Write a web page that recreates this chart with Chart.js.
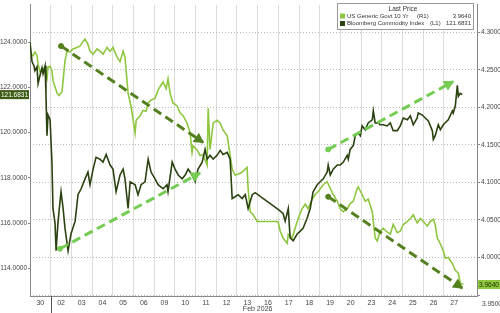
<!DOCTYPE html>
<html>
<head>
<meta charset="utf-8">
<script src="https://cdn.jsdelivr.net/npm/chart.js@4.4.1/dist/chart.umd.min.js"></script>
<style>
body{margin:0;background:#fff;}
#wrap{width:500px;height:313px;}
</style>
</head>
<body>
<div id="wrap"><canvas id="chart" width="500" height="313"></canvas></div>
<script>

/* DATA */

const dayLabels=['30','02','03','04','05','06','09','10','11','12','13','16','17','18','19','20','23','24','25','26','27'];

const leftTicks=[114,116,118,120,122,124];
const rightTicks=[3.95,4.00,4.05,4.10,4.15,4.20,4.25,4.30];

// Bloomberg Commodity Index (left axis), x = trading day index
const bcomX=[0,0.10,0.19,0.24,0.34,0.39,0.48,0.58,0.63,0.73,
0.77,0.82,0.87,0.97,1.06,1.11,1.21,1.26,1.35,1.45,
1.50,1.60,1.69,1.84,1.98,2.18,2.32,2.47,2.66,2.80,
2.90,3.05,3.19,3.38,3.53,3.68,3.87,4.01,4.16,4.35,
4.50,4.59,4.74,4.84,5.08,5.22,5.37,5.56,5.71,5.85,
6.04,6.19,6.43,6.62,6.67,6.87,7.01,7.16,7.35,7.50,
7.64,7.83,7.98,8.12,8.32,8.46,8.56,8.70,8.85,9.04,
9.19,9.33,9.53,9.67,9.77,9.91,10.06,10.25,10.40,10.54,
10.74,10.88,11.99,12.23,12.33,12.48,12.57,12.72,12.91,13.06,
13.20,13.39,13.54,13.68,13.88,14.02,14.17,14.36,14.41,14.51,
14.65,14.85,14.99,15.14,15.33,15.38,15.47,15.62,15.72,15.86,
15.96,16.05,16.20,16.34,16.54,16.59,16.68,16.83,16.92,17.07,
17.26,17.41,17.55,17.75,17.89,18.04,18.23,18.38,18.52,18.71,
18.76,18.96,19.10,19.25,19.44,19.49,19.58,19.73,19.83,19.97,
20.21,20.41,20.45,20.55,20.65,20.70,20.79,20.89];

const bcomY=[124.00,123.13,122.96,122.74,122.91,122.17,122.52,122.87,122.61,122.96,
121.74,119.87,120.78,120.57,118.70,116.65,116.00,114.78,116.00,116.96,
117.39,116.65,115.78,114.78,115.52,116.09,117.26,117.52,117.96,118.26,
117.70,118.39,118.91,118.83,118.70,119.04,118.57,118.39,117.39,118.13,
118.39,117.96,116.65,117.83,117.70,117.26,117.70,117.83,118.83,118.26,
117.96,117.70,117.52,117.70,117.39,118.70,118.39,118.13,117.96,118.13,
118.39,118.13,117.83,118.39,118.70,119.26,118.83,119.00,118.83,119.00,
119.22,119.04,119.13,118.83,117.09,117.17,117.26,117.09,117.26,116.65,
117.26,117.35,116.61,116.43,116.09,116.65,115.35,115.22,115.52,115.65,
115.78,116.22,116.65,117.39,117.70,117.83,117.96,118.26,118.57,118.13,
118.39,118.57,118.57,118.70,119.00,118.83,119.26,119.43,119.87,120.00,
119.87,120.30,120.13,120.43,120.57,120.96,120.43,120.43,120.35,120.35,
120.30,120.43,120.09,120.09,120.30,120.65,120.57,120.74,120.35,120.65,
120.87,120.78,120.65,120.52,120.09,119.70,119.87,120.35,120.13,120.35,
120.57,120.96,120.87,121.17,122.09,121.61,121.74,121.6831];

// US Generic Govt 10 Yr (right axis)
const ustX=[0,0.15,0.24,0.34,0.39,0.48,0.63,0.82,0.87,0.97,
1.06,1.11,1.31,1.40,1.55,1.60,1.69,1.79,1.93,2.08,
2.27,2.42,2.56,2.66,2.80,2.90,3.05,3.24,3.38,3.53,
3.72,3.87,4.01,4.21,4.35,4.50,4.59,4.74,4.88,5.08,
5.13,5.32,5.46,5.61,5.71,5.85,6.04,6.19,6.29,6.43,
6.58,6.67,6.77,6.91,7.11,7.25,7.40,7.59,7.74,7.83,
7.88,8.08,8.22,8.37,8.56,8.61,8.70,8.85,9.04,9.19,
9.33,9.53,9.67,9.77,9.91,10.06,10.25,10.40,10.49,10.54,
10.64,10.78,10.98,11.99,12.09,12.23,12.43,12.48,12.67,12.81,
12.96,13.15,13.30,13.44,13.64,13.78,13.93,14.17,14.36,14.51,
14.65,14.85,14.99,15.14,15.33,15.47,15.62,15.81,15.86,16.05,
16.20,16.34,16.54,16.68,16.78,16.92,17.07,17.26,17.41,17.55,
17.75,17.89,18.04,18.23,18.38,18.52,18.71,18.86,19.00,19.20,
19.34,19.49,19.58,19.68,19.83,19.97,20.07,20.21,20.41,20.55,
20.70,20.79,20.94];

const ustY=[4.271,4.269,4.274,4.269,4.258,4.248,4.252,4.238,4.254,4.255,
4.249,4.236,4.219,4.216,4.221,4.236,4.262,4.275,4.274,4.278,
4.280,4.282,4.288,4.291,4.284,4.275,4.271,4.278,4.275,4.271,
4.280,4.275,4.280,4.267,4.261,4.275,4.267,4.219,4.202,4.166,
4.183,4.189,4.196,4.195,4.206,4.210,4.212,4.223,4.228,4.234,
4.225,4.238,4.219,4.206,4.202,4.193,4.189,4.179,4.166,4.140,
4.149,4.143,4.136,4.137,4.123,4.199,4.144,4.179,4.183,4.179,
4.170,4.162,4.136,4.118,4.110,4.111,4.114,4.118,4.120,4.092,
4.061,4.057,4.048,4.048,4.035,4.026,4.019,4.031,4.026,4.039,
4.052,4.065,4.071,4.065,4.078,4.084,4.088,4.097,4.101,4.092,
4.084,4.075,4.065,4.061,4.065,4.072,4.075,4.092,4.094,4.084,
4.075,4.078,4.061,4.026,4.022,4.035,4.039,4.034,4.031,4.044,
4.033,4.035,4.044,4.048,4.052,4.057,4.046,4.052,4.048,4.042,
4.048,4.051,4.044,4.026,4.018,4.009,3.999,4.000,3.992,3.983,
3.979,3.966,3.964];

// trend arrows (left axis units)
const arrow1X=[1.50,8.37], arrow1Y=[123.83,119.57];
const arrow2X=[1.45,8.22], arrow2Y=[114.87,118.22];
const arrow3X=[14.41,20.45], arrow3Y=[119.26,122.26];
const arrow4X=[14.41,20.89], arrow4Y=[117.17,113.13];


/* COLOURS */

const darkGreen='#2b4210';
const lightGreen='#8dc63f';
const arrowDark='#55801f';
const arrowLight='#74cc52';

Chart.defaults.font.family='"Liberation Sans", Arial, sans-serif';
Chart.defaults.color='#444';

function toPts(xs,ys){
return xs.map((x,i)=>({x:x,y:ys[i]}));
}

function arrowSet(xs,ys,color){
return {
data:toPts(xs,ys),
yAxisID:'y',
borderColor:color,
backgroundColor:color,
pointBackgroundColor:color,
pointBorderColor:color,
borderWidth:3,
borderDash:[9,5],
pointRadius:ctx=>ctx.dataIndex===0?2.5:0,
pointBorderWidth:1,
pointHoverRadius:0,
order:0,
isArrow:true
};
}

const lastBcom=bcomY[bcomY.length-1];
const lastUst=ustY[ustY.length-1];


/* EXTRA DRAWING: arrowheads, legend box, value tags, month label */

const extras={
id:'extras',

afterDatasetsDraw(chart){
const ctx=chart.ctx;
chart.data.datasets.forEach((ds,i)=>{
if(!ds.isArrow) return;
const pts=chart.getDatasetMeta(i).data;
const a=pts[0], b=pts[pts.length-1];
const ang=Math.atan2(b.y-a.y,b.x-a.x);
ctx.save();
ctx.fillStyle=ds.borderColor;
ctx.beginPath();
ctx.arc(a.x,a.y,2.5,0,Math.PI*2);
ctx.fill();
ctx.translate(b.x,b.y);
ctx.rotate(ang);
ctx.beginPath();
ctx.moveTo(1,0);
ctx.lineTo(-9,-5.5);
ctx.lineTo(-9,5.5);
ctx.closePath();
ctx.fill();
ctx.restore();
});
},

afterDraw(chart){
const ctx=chart.ctx;
const xs=chart.scales.x, yl=chart.scales.y, yr=chart.scales.y1;
const area=chart.chartArea;

ctx.save();

// month boundary tick + label
const xm=Math.round(xs.getPixelForValue(1))+0.5;
ctx.strokeStyle='#555';
ctx.lineWidth=1;
ctx.beginPath();
ctx.moveTo(xm,area.bottom);
ctx.lineTo(xm,313);
ctx.stroke();

ctx.font='7px "Liberation Sans", Arial, sans-serif';
ctx.fillStyle='#444';
ctx.textAlign='center';
ctx.textBaseline='middle';
ctx.fillText('Feb 2026',(xs.getPixelForValue(1)+xs.getPixelForValue(21))/2,309);

// 3.9500 label sits below the value tag
ctx.textAlign='left';
ctx.font='6.5px "Liberation Sans", Arial, sans-serif';
ctx.fillText(rightTicks[0].toFixed(4),area.right+5,yr.getPixelForValue(rightTicks[0])+9);

// value tags
const tl=yl.getPixelForValue(lastBcom);
ctx.fillStyle='#3d5c15';
ctx.fillRect(0,tl-4.5,29,9);
ctx.fillStyle='#fff';
ctx.textAlign='center';
ctx.fillText(lastBcom.toFixed(4),14.5,tl+0.5);

const tr=yr.getPixelForValue(lastUst);
ctx.fillStyle=lightGreen;
ctx.fillRect(478,tr-4.5,22,9);
ctx.fillStyle='#1e3300';
ctx.fillText(lastUst.toFixed(4),489,tr+0.5);

// legend box
ctx.fillStyle='#fff';
ctx.fillRect(337,3,136,26);
ctx.strokeStyle='#999';
ctx.strokeRect(337.5,3.5,136,26);

ctx.fillStyle='#333';
ctx.font='6.5px "Liberation Sans", Arial, sans-serif';
ctx.textAlign='center';
ctx.fillText('Last Price',403,9.5);

ctx.fillStyle=lightGreen;
ctx.fillRect(340,13.5,5,5);
ctx.fillStyle=darkGreen;
ctx.fillRect(340,21,5,5);

ctx.fillStyle='#333';
ctx.font='6px "Liberation Sans", Arial, sans-serif';
ctx.textAlign='left';
ctx.fillText('US Generic Govt 10 Yr',347,16);
ctx.fillText('(R1)',417,16);
ctx.fillText('Bloomberg Commodity Index',347,23.5);
ctx.fillText('(L1)',430,23.5);
ctx.textAlign='right';
ctx.fillText(lastUst.toFixed(4),471,16);
ctx.fillText(lastBcom.toFixed(4),471,23.5);

ctx.restore();
}
};


/* CHART */

new Chart(document.getElementById('chart'),{
type:'line',
data:{
datasets:[
arrowSet(arrow1X,arrow1Y,arrowDark),
arrowSet(arrow2X,arrow2Y,arrowLight),
arrowSet(arrow3X,arrow3Y,arrowLight),
arrowSet(arrow4X,arrow4Y,arrowDark),
{
label:'Bloomberg Commodity Index',
data:toPts(bcomX,bcomY),
yAxisID:'y',
borderColor:darkGreen,
borderWidth:1.6,
pointRadius:0,
tension:0,
order:1
},
{
label:'US Generic Govt 10 Yr',
data:toPts(ustX,ustY),
yAxisID:'y1',
borderColor:lightGreen,
borderWidth:1.6,
pointRadius:0,
tension:0,
order:2
}
]
},
options:{
responsive:false,
animation:false,
devicePixelRatio:1,
layout:{padding:0},
plugins:{legend:{display:false},tooltip:{enabled:false}},
scales:{
x:{
type:'linear',
min:0,
max:21.6,
afterBuildTicks:s=>{s.ticks=dayLabels.map((d,i)=>({value:i}));},
afterFit:s=>{s.height=17;},
grid:{color:'#dcdcdc',drawTicks:false},
border:{color:'#888'},
ticks:{
autoSkip:false,
maxRotation:0,
labelOffset:10.34,
padding:3,
font:{size:7},
callback:(v,i)=>dayLabels[i]
}
},
y:{
position:'left',
min:112.78,
max:125.65,
afterBuildTicks:s=>{s.ticks=leftTicks.map(v=>({value:v}));},
afterFit:s=>{s.width=30;},
grid:{drawOnChartArea:false,tickLength:2,color:'#888'},
border:{color:'#888'},
ticks:{padding:1,font:{size:6.5},callback:v=>v.toFixed(4)}
},
y1:{
position:'right',
min:3.9487,
max:4.3367,
afterBuildTicks:s=>{s.ticks=rightTicks.map(v=>({value:v}));},
afterFit:s=>{s.width=23;},
grid:{color:'#b8b8b8',tickLength:3,tickColor:'#888'},
border:{color:'#888',dash:[1,2]},
ticks:{padding:1,font:{size:6.5},callback:v=>v===rightTicks[0]?'':v.toFixed(4)}
}
}
},
plugins:[extras]
});

</script>
</body>
</html>
